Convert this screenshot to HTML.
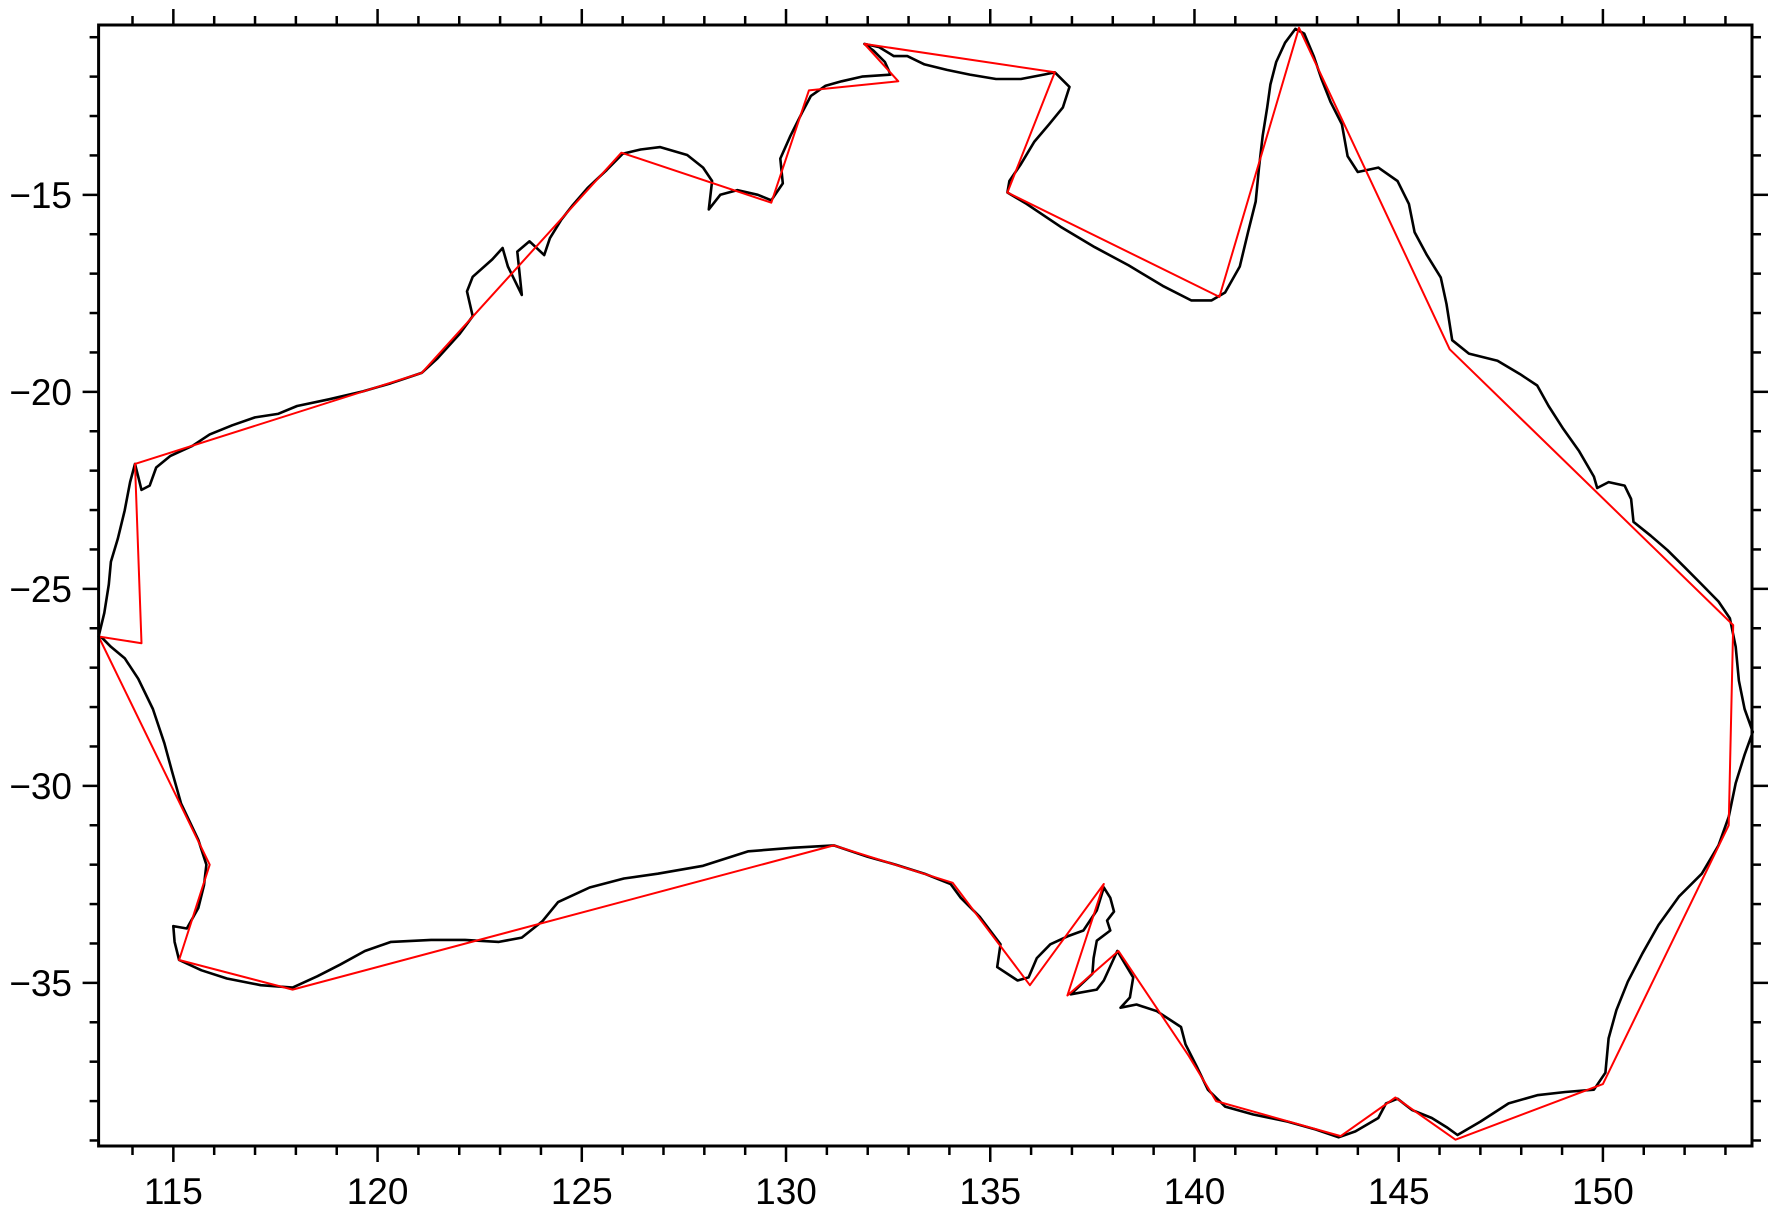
<!DOCTYPE html>
<html><head><meta charset="utf-8">
<style>
html,body{margin:0;padding:0;background:#fff;}
svg{display:block;}
text{font-family:"Liberation Sans",sans-serif;font-size:37px;fill:#000;}
</style></head>
<body>
<svg id="chart" width="1778" height="1211" viewBox="0 0 1778 1211" xmlns="http://www.w3.org/2000/svg">
<rect x="0" y="0" width="1778" height="1211" fill="#fff"/>
<g id="ticks"></g>
<g id="labels"></g>
<g id="marks"></g>
<rect x="98.6" y="25" width="1653.4" height="1121" fill="none" stroke="#000" stroke-width="3"/>
</svg>
<script>
const xTickLabels = [115,120,125,130,135,140,145,150];
const yTickLabels = [-15,-20,-25,-30,-35];
const coastLon = [113.17,113.31,113.42,113.47,113.64,113.81,113.94,114.06,114.14,114.22,114.42,114.58,114.92,115.47,115.89,116.44,117.00,117.56,118.03,118.81,119.64,120.33,121.08,121.47,122.00,122.33,122.19,122.33,122.81,123.06,123.19,123.53,123.42,123.72,124.08,124.22,124.50,124.78,125.14,125.61,126.00,126.44,126.92,127.58,127.97,128.19,128.11,128.39,128.81,129.31,129.64,129.92,129.86,130.11,130.39,130.61,130.97,131.36,131.86,132.56,132.42,132.14,131.92,132.28,132.64,132.97,133.39,133.94,134.50,135.14,135.75,136.31,136.58,136.94,136.78,136.44,136.08,135.75,135.47,135.42,135.89,136.72,137.56,138.39,139.22,139.92,140.42,140.75,141.11,141.31,141.50,141.58,141.67,141.78,141.86,142.00,142.22,142.47,142.69,142.92,143.11,143.33,143.61,143.75,144.00,144.50,144.97,145.25,145.39,145.69,146.03,146.17,146.31,146.72,147.42,147.97,148.39,148.67,149.03,149.42,149.78,149.86,150.14,150.53,150.69,150.75,151.17,151.58,152.00,152.42,152.83,153.11,153.25,153.33,153.47,153.67,153.47,153.25,153.08,152.83,152.42,151.86,151.36,150.97,150.61,150.33,150.14,150.06,149.78,149.08,148.39,147.69,147.00,146.44,146.17,145.81,145.33,144.97,144.69,144.50,143.94,143.53,142.97,142.28,141.44,140.75,140.33,140.06,139.78,139.67,139.08,138.58,138.19,138.42,138.50,138.11,137.78,137.61,136.97,137.50,137.53,137.61,137.94,137.86,138.03,137.94,137.78,137.61,137.28,136.89,136.47,136.14,135.94,135.67,135.17,135.25,134.75,134.28,134.03,133.39,132.69,132.00,131.17,130.19,129.08,127.97,126.86,126.03,125.19,124.42,124.03,123.53,122.97,122.14,121.31,120.33,119.69,119.08,118.53,117.92,117.14,116.31,115.69,115.14,115.03,115.00,115.33,115.61,115.75,115.81,115.61,115.19,114.97,114.78,114.50,114.14,113.81,113.47,113.25];
const coastLat = [-26.21,-25.61,-24.89,-24.31,-23.73,-23.01,-22.29,-21.83,-22.15,-22.49,-22.38,-21.92,-21.63,-21.37,-21.08,-20.85,-20.65,-20.56,-20.36,-20.19,-19.99,-19.78,-19.52,-19.15,-18.54,-18.08,-17.45,-17.08,-16.64,-16.35,-16.82,-17.54,-16.44,-16.18,-16.53,-16.10,-15.63,-15.26,-14.83,-14.37,-13.96,-13.85,-13.79,-13.99,-14.31,-14.65,-15.37,-15.00,-14.88,-15.00,-15.14,-14.71,-14.08,-13.50,-12.92,-12.49,-12.23,-12.12,-12.00,-11.95,-11.63,-11.34,-11.17,-11.25,-11.48,-11.48,-11.69,-11.83,-11.95,-12.06,-12.06,-11.95,-11.89,-12.26,-12.78,-13.21,-13.65,-14.22,-14.65,-14.94,-15.23,-15.81,-16.33,-16.79,-17.31,-17.68,-17.68,-17.48,-16.82,-15.95,-15.17,-14.31,-13.50,-12.78,-12.20,-11.63,-11.14,-10.79,-10.91,-11.48,-12.06,-12.64,-13.21,-14.02,-14.42,-14.31,-14.65,-15.23,-15.95,-16.53,-17.10,-17.77,-18.69,-19.03,-19.21,-19.55,-19.84,-20.36,-20.94,-21.51,-22.15,-22.44,-22.29,-22.38,-22.72,-23.30,-23.65,-24.02,-24.45,-24.89,-25.32,-25.75,-26.47,-27.33,-28.05,-28.63,-29.21,-29.93,-30.79,-31.51,-32.23,-32.81,-33.53,-34.25,-34.97,-35.69,-36.41,-37.28,-37.71,-37.77,-37.85,-38.06,-38.52,-38.86,-38.66,-38.43,-38.23,-37.94,-38.06,-38.43,-38.77,-38.92,-38.72,-38.52,-38.34,-38.14,-37.71,-37.13,-36.56,-36.12,-35.72,-35.55,-35.63,-35.37,-34.86,-34.19,-34.94,-35.17,-35.29,-34.77,-34.37,-33.93,-33.67,-33.42,-33.19,-32.84,-32.58,-33.16,-33.67,-33.82,-34.02,-34.37,-34.86,-34.94,-34.60,-34.02,-33.33,-32.84,-32.49,-32.23,-32.00,-31.80,-31.51,-31.57,-31.66,-32.03,-32.23,-32.35,-32.58,-32.95,-33.44,-33.85,-33.96,-33.91,-33.91,-33.96,-34.19,-34.54,-34.83,-35.12,-35.06,-34.89,-34.68,-34.42,-33.96,-33.56,-33.62,-33.10,-32.52,-32.00,-31.37,-30.45,-29.64,-28.92,-28.05,-27.28,-26.76,-26.47,-26.24];
const simpLon = [113.17,114.22,114.06,121.08,125.97,129.64,130.56,132.75,131.92,136.58,135.42,140.61,142.56,146.25,153.19,153.08,150.00,146.39,144.92,143.58,140.53,139.86,138.14,136.89,137.78,135.97,134.08,131.17,117.92,115.14,115.89];
const simpLat = [-26.21,-26.38,-21.83,-19.52,-13.93,-15.20,-12.35,-12.12,-11.17,-11.89,-14.94,-17.59,-10.76,-18.92,-25.92,-31.00,-37.57,-38.98,-37.91,-38.89,-38.00,-36.85,-34.19,-35.32,-32.49,-35.06,-32.46,-31.51,-35.17,-34.42,-32.00];

const L=98.6,R=1752,T=25,B=1146;
const lonMin=113.17,lonMax=153.65,latMin=-39.14,latMax=-10.69;
function xs(v){return L+(v-lonMin)/(lonMax-lonMin)*(R-L);}
function ys(v){return B-(v-latMin)/(latMax-latMin)*(B-T);}
const NS="http://www.w3.org/2000/svg";
const tg=document.getElementById('ticks'),lg=document.getElementById('labels'),mg=document.getElementById('marks');
function line(g,x1,y1,x2,y2,name,w){
  const l=document.createElementNS(NS,'line');
  l.setAttribute('x1',x1);l.setAttribute('y1',y1);l.setAttribute('x2',x2);l.setAttribute('y2',y2);
  l.setAttribute('stroke','#000');l.setAttribute('stroke-width',w||2.5);
  
  
  g.appendChild(l);
}
for(let v=114;v<=153;v++){
  const major=v%5===0, len=major?16:9, x=xs(v);
  line(tg,x,B,x,B+len,'x-tick-bottom');
  line(tg,x,T,x,T-len,'x-tick-top');
}
for(let v=-39;v<=-11;v++){
  const major=v%5===0, len=major?16:9, y=ys(v);
  line(tg,L,y,L-len,y,'y-tick-left');
  line(tg,R,y,R+len,y,'y-tick-right');
}
xTickLabels.forEach(v=>{
  const t=document.createElementNS(NS,'text');
  t.setAttribute('x',xs(v));t.setAttribute('y',1204);t.setAttribute('text-anchor','middle');
  t.textContent=String(v);
  
  
  lg.appendChild(t);
});
yTickLabels.forEach(v=>{
  const t=document.createElementNS(NS,'text');
  t.setAttribute('x',72);t.setAttribute('y',ys(v)+13);t.setAttribute('text-anchor','end');
  t.textContent='\u2212'+Math.abs(v);
  
  
  lg.appendChild(t);
});
function poly(lons,lats,color,w,name){
  const p=document.createElementNS(NS,'polygon');
  p.setAttribute('points',lons.map((v,i)=>xs(v).toFixed(1)+','+ys(lats[i]).toFixed(1)).join(' '));
  p.setAttribute('fill','none');p.setAttribute('stroke',color);p.setAttribute('stroke-width',w);
  p.setAttribute('stroke-linejoin','round');
  
  
  mg.appendChild(p);
}
poly(coastLon,coastLat,'#000',2.6,'coastline');
poly(simpLon,simpLat,'#ff0000',2,'simplified-polygon');
</script>
</body></html>
